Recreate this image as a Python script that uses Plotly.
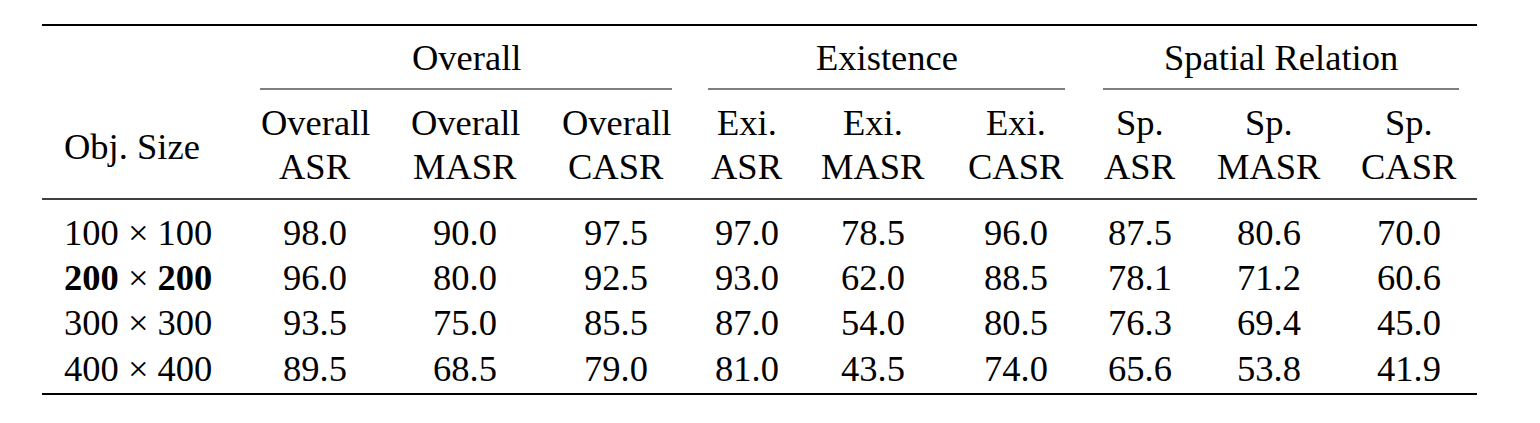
import plotly.graph_objects as go

# ---------------- data ----------------
obj_sizes = ["100 × 100", "<b>200</b> × <b>200</b>", "300 × 300", "400 × 400"]
group_names = ["Overall", "Existence", "Spatial Relation"]
col_line1 = ["Overall", "Overall", "Overall", "Exi.", "Exi.", "Exi.", "Sp.", "Sp.", "Sp."]
col_line2 = ["ASR", "MASR", "CASR", "ASR", "MASR", "CASR", "ASR", "MASR", "CASR"]

overall_asr = [98.0, 96.0, 93.5, 89.5]
overall_masr = [90.0, 80.0, 75.0, 68.5]
overall_casr = [97.5, 92.5, 85.5, 79.0]
exi_asr = [97.0, 93.0, 87.0, 81.0]
exi_masr = [78.5, 62.0, 54.0, 43.5]
exi_casr = [96.0, 88.5, 80.5, 74.0]
sp_asr = [87.5, 78.1, 76.3, 65.6]
sp_masr = [80.6, 71.2, 69.4, 53.8]
sp_casr = [70.0, 60.6, 45.0, 41.9]

columns = [overall_asr, overall_masr, overall_casr,
           exi_asr, exi_masr, exi_casr,
           sp_asr, sp_masr, sp_casr]

# ---------------- layout (page pixel positions) ----------------
W, H = 1540, 423
PAD = 8  # default body margin of the html page
FONT = "Liberation Serif"
FS = 36.5
col_x = [315, 465, 616, 747, 873, 1016, 1140, 1269, 1409]
group_span = [(260, 672), (708, 1065), (1103, 1459)]
label_x = 62
row_y = [232, 277, 322, 368]
y_group = 57
y_h1 = 122
y_h2 = 166
y_objsize = 146
rule_x0, rule_x1 = 42, 1477
y_top, y_cmid, y_mid, y_bot = 25, 89, 199, 394

fig = go.Figure()
fig.add_trace(go.Scatter(x=[PAD, W - PAD], y=[PAD, H - PAD], mode="markers",
                         marker=dict(opacity=0), hoverinfo="skip", showlegend=False))

ann = []
def txt(x, y, s, xanchor="center"):
    ann.append(dict(x=x, y=y, xref="x", yref="y", text=s, showarrow=False,
                    xanchor=xanchor, yanchor="middle",
                    font=dict(family=FONT, size=FS, color="black")))

# group headers
for name, (a, b) in zip(group_names, group_span):
    txt((a + b) / 2, y_group, name)

# column headers
txt(label_x, y_objsize, "Obj. Size", xanchor="left")
for x, l1, l2 in zip(col_x, col_line1, col_line2):
    txt(x, y_h1, l1)
    txt(x, y_h2, l2)

# body
for i, lab in enumerate(obj_sizes):
    txt(label_x, row_y[i], lab, xanchor="left")
    for x, col in zip(col_x, columns):
        txt(x, row_y[i], f"{col[i]:.1f}")

shapes = []
def rule(x0, x1, y, w):
    shapes.append(dict(type="line", xref="x", yref="y", x0=x0, x1=x1, y0=y, y1=y,
                       line=dict(color="black", width=w)))

rule(rule_x0, rule_x1, y_top, 2.2)
for a, b in group_span:
    rule(a, b, y_cmid, 1.1)
rule(rule_x0, rule_x1, y_mid, 1.5)
rule(rule_x0, rule_x1, y_bot, 2.2)

fig.update_layout(
    width=W - 2 * PAD, height=H - 2 * PAD,
    margin=dict(l=0, r=0, t=0, b=0),
    paper_bgcolor="white", plot_bgcolor="white",
    font=dict(family=FONT),
    xaxis=dict(range=[PAD, W - PAD], visible=False, fixedrange=True),
    yaxis=dict(range=[H - PAD, PAD], visible=False, fixedrange=True),
    annotations=ann, shapes=shapes,
    showlegend=False,
)

fig.write_html("out.html", config={"displayModeBar": False})
